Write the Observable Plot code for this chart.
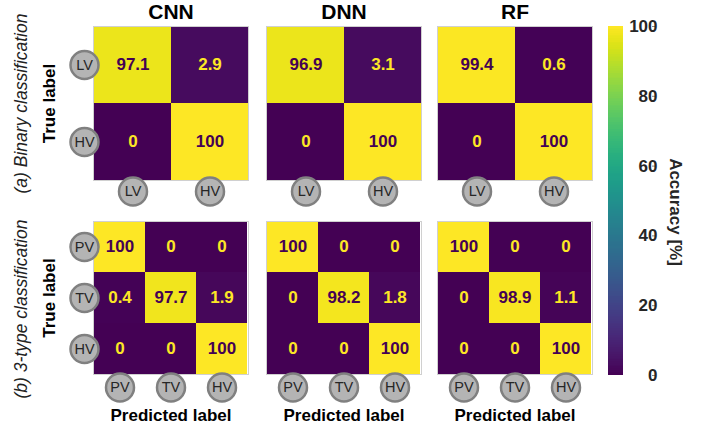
<!DOCTYPE html>
<html><head><meta charset="utf-8">
<script src="https://cdn.jsdelivr.net/npm/d3@7"></script>
<script src="https://cdn.jsdelivr.net/npm/@observablehq/plot@0.6"></script>
<style>
body{margin:0;background:#fff;}
#chart{position:relative;width:702px;height:432px;font-family:"Liberation Sans",Arial,sans-serif;}
#chart svg{position:absolute;}
</style></head><body><div id="chart"></div>
<script>
const models = ["CNN", "DNN", "RF"];
const binaryLabels = ["LV", "HV"];
const threeTypeLabels = ["PV", "TV", "HV"];
const cnnBinary = [[97.1, 2.9], [0, 100]];
const dnnBinary = [[96.9, 3.1], [0, 100]];
const rfBinary = [[99.4, 0.6], [0, 100]];
const cnnThree = [[100, 0, 0], [0.4, 97.7, 1.9], [0, 0, 100]];
const dnnThree = [[100, 0, 0], [0, 98.2, 1.8], [0, 0, 100]];
const rfThree = [[100, 0, 0], [0, 98.9, 1.1], [0, 0, 100]];
const rowTitles = ["(a) Binary classification", "(b) 3-type classification"];
const colorTicks = [0, 20, 40, 60, 80, 100];
const colorLabel = "Accuracy [%]";
const yLabel = "True label";
const xLabel = "Predicted label";

const FONT = '"Liberation Sans", Arial, sans-serif';
const chart = document.getElementById("chart");
const colorScale = {type: "linear", scheme: "viridis", domain: [0, 100]};

const frameX = [93, 266, 437];
const frameW = 155;
const rows = [
  {top: 26, h: 154, circleDy: 11, labels: binaryLabels, mats: [cnnBinary, dnnBinary, rfBinary]},
  {top: 221, h: 153, circleDy: 13, labels: threeTypeLabels, mats: [cnnThree, dnnThree, rfThree]}
];

const circleStyle = {r: 14, fill: "#b4b4b4", stroke: "#808080", strokeWidth: 2.5};
const circleText = {fontSize: 14.5, fill: "#262626", textAnchor: "middle", lineAnchor: "middle"};

rows.forEach((row, ri) => {
  row.mats.forEach((values, ci) => {
    const labels = row.labels;
    const data = values.flatMap((r, i) => r.map((v, j) => ({t: labels[i], p: labels[j], v})));
    const mLeft = ci === 0 ? 93 : 30;
    const mTop = ri === 0 ? 26 : 12;
    const mBottom = ri === 1 ? 50 : 30;
    const marks = [
      Plot.cell(data, {x: "p", y: "t", fill: "v", inset: 0}),
      Plot.frame({stroke: "#d0d0d0", strokeWidth: 1}),
      Plot.text(data.filter(d => d.v > 50), {x: "p", y: "t", text: d => String(d.v), fill: "#440154", fontSize: 17, fontWeight: "bold"}),
      Plot.text(data.filter(d => d.v <= 50), {x: "p", y: "t", text: d => String(d.v), fill: "#fde725", fontSize: 17, fontWeight: "bold"}),
      Plot.dot(labels, {x: d => d, frameAnchor: "bottom", dy: row.circleDy, ...circleStyle}),
      Plot.text(labels, {x: d => d, frameAnchor: "bottom", dy: row.circleDy, text: d => d, ...circleText})
    ];
    if (ri === 0) {
      marks.push(Plot.text([models[ci]], {text: d => d, frameAnchor: "top", dy: -14, fontSize: 21, fontWeight: "bold", fill: "#000", textAnchor: "middle", lineAnchor: "middle"}));
    }
    if (ri === 1) {
      marks.push(Plot.text([xLabel], {text: d => d, frameAnchor: "bottom", dy: 41, fontSize: 17, fontWeight: "bold", fill: "#000", textAnchor: "middle", lineAnchor: "middle"}));
    }
    if (ci === 0) {
      marks.push(Plot.dot(labels, {y: d => d, frameAnchor: "left", dx: -9, ...circleStyle}));
      marks.push(Plot.text(labels, {y: d => d, frameAnchor: "left", dx: -9, text: d => d, ...circleText}));
      marks.push(Plot.text([yLabel], {text: d => d, frameAnchor: "left", dx: -44, rotate: -90, fontSize: 17, fontWeight: "bold", fill: "#000", textAnchor: "middle", lineAnchor: "middle"}));
      marks.push(Plot.text([rowTitles[ri]], {text: d => d, frameAnchor: "left", dx: -72, dy: ri === 1 ? 11 : 0, rotate: -90, fontSize: 17.5, fontStyle: "italic", fill: "#222", textAnchor: "middle", lineAnchor: "middle"}));
    }
    const svg = Plot.plot({
      width: mLeft + frameW + 2,
      height: mTop + row.h + mBottom,
      marginLeft: mLeft, marginRight: 2, marginTop: mTop, marginBottom: mBottom,
      style: {background: "transparent", overflow: "visible", fontFamily: FONT},
      x: {domain: labels, axis: null, padding: 0},
      y: {domain: labels, axis: null, padding: 0},
      color: colorScale,
      marks
    });
    svg.style.left = (frameX[ci] - mLeft) + "px";
    svg.style.top = (row.top - mTop) + "px";
    chart.appendChild(svg);
  });
});

// colorbar
const stops = d3.range(0, 100, 0.5);
const cb = Plot.plot({
  width: 94, height: 26 + 349 + 30,
  marginLeft: 0, marginRight: 79, marginTop: 26, marginBottom: 30,
  style: {background: "transparent", overflow: "visible", fontFamily: FONT},
  y: {domain: [0, 100], axis: null},
  color: colorScale,
  marks: [
    Plot.rect(stops, {y1: d => d, y2: d => d + 0.5, fill: d => d + 0.25, inset: 0, shapeRendering: "crispEdges"}),
    Plot.axisY(colorTicks, {anchor: "right", tickSize: 3, tickPadding: 3, fontSize: 17, fontWeight: "bold", textAnchor: "end", dx: 28, label: null, color: "#262626", stroke: "#888"}),
    Plot.text([colorLabel], {text: d => d, frameAnchor: "right", dx: 52, dy: 11, rotate: 90, fontSize: 17, fontWeight: "bold", fill: "#262626", textAnchor: "middle", lineAnchor: "middle"})
  ]
});
cb.style.left = "608px";
cb.style.top = "0px";
chart.appendChild(cb);
</script>
</body></html>
